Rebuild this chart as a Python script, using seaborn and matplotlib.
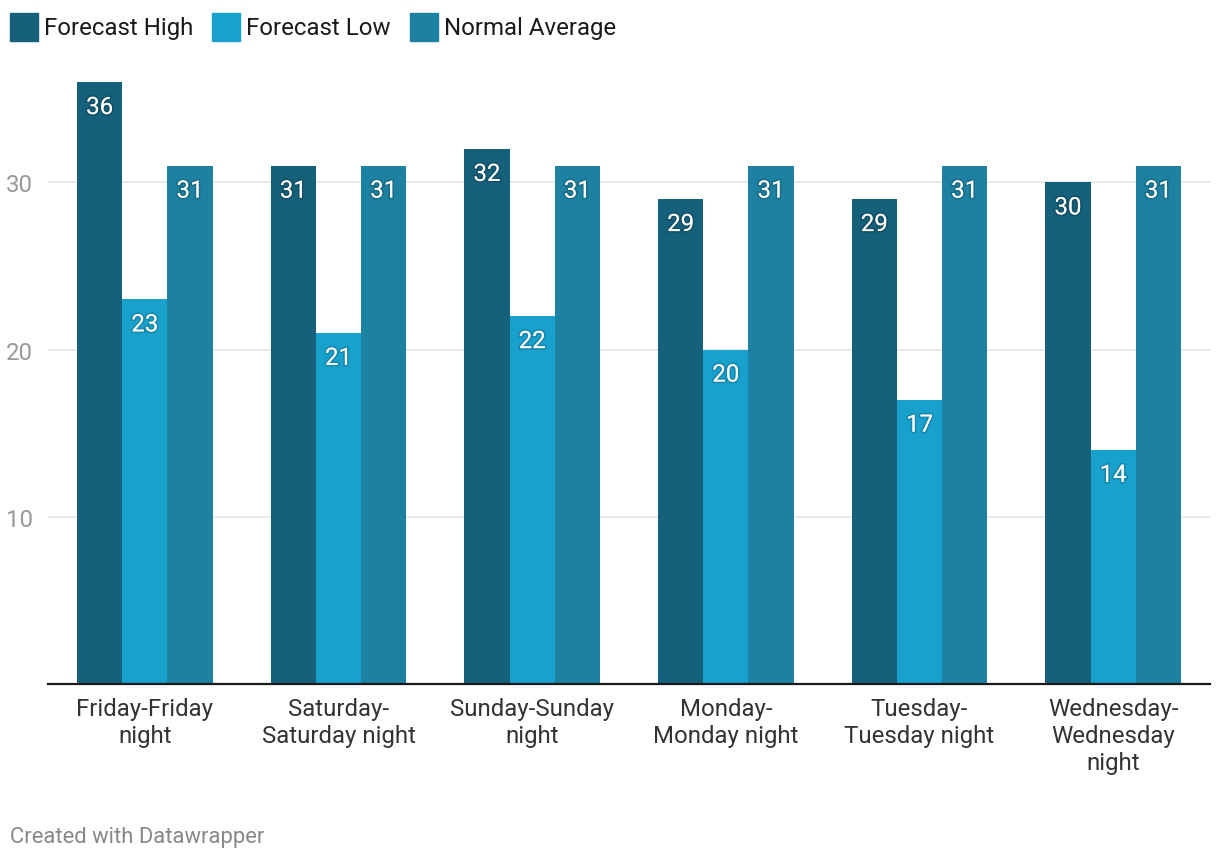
import pandas as pd
import seaborn as sns
import matplotlib.pyplot as plt
import matplotlib.patheffects as pe
from matplotlib.patches import Rectangle


DAYS = ['Friday-Friday\nnight', 'Saturday-\nSaturday night', 'Sunday-Sunday\nnight',
        'Monday-\nMonday night', 'Tuesday-\nTuesday night', 'Wednesday-\nWednesday\nnight']
SERIES = ['Forecast High', 'Forecast Low', 'Normal Average']
FORECAST_HIGH = [36, 31, 32, 29, 29, 30]
FORECAST_LOW = [23, 21, 22, 20, 17, 14]
NORMAL_AVERAGE = [31, 31, 31, 31, 31, 31]
Y_TICKS = [10, 20, 30]

COLORS = ['#15607a', '#18a1cd', '#1d81a2']


def build_frame():
    rows = []
    for name, values in zip(SERIES, [FORECAST_HIGH, FORECAST_LOW, NORMAL_AVERAGE]):
        for day, v in zip(DAYS, values):
            rows.append({'day': day, 'series': name, 'value': v})
    return pd.DataFrame(rows)


def main():
    sns.set_style('white')
    plt.rcParams['font.family'] = ['Roboto', 'DejaVu Sans']

    df = build_frame()
    W, H = 1220, 862
    fig = plt.figure(figsize=(W / 100, H / 100), dpi=100)
    ax = fig.add_axes([48 / W, 1 - 685 / H, (1210 - 48) / W, (685 - 80) / H])

    sns.barplot(data=df, x='day', y='value', hue='series', order=DAYS, hue_order=SERIES,
                palette=COLORS, width=0.7, linewidth=0, saturation=1, legend=False, ax=ax)

    ax.set_xlim(-0.5, len(DAYS) - 0.5)
    ax.set_ylim(0, (685 - 80) / 16.72)
    ax.set_yticks(Y_TICKS)
    ax.yaxis.grid(True, color='#e5e5e5', linewidth=1.2)
    ax.set_axisbelow(True)
    ax.set(xlabel='', ylabel='')
    for side in ['top', 'right', 'left']:
        ax.spines[side].set_visible(False)
    ax.spines['bottom'].set_color('#1a1a1a')
    ax.spines['bottom'].set_linewidth(1.6)
    ax.tick_params(axis='y', length=0, pad=11, labelsize=17.3, labelcolor='#999999')
    ax.tick_params(axis='x', length=0, pad=9.5, labelsize=17.3, labelcolor='#333333')
    for lbl in ax.get_xticklabels():
        lbl.set_linespacing(1.22)
        lbl.set_va('top')

    shadow = [pe.withStroke(linewidth=2.5, foreground=(0, 0, 0, 0.15))]
    for container in ax.containers:
        for bar in container:
            h = bar.get_height()
            ax.annotate('%d' % h, (bar.get_x() + bar.get_width() / 2, h),
                        xytext=(0, -23), textcoords='offset points',
                        ha='center', va='baseline', color='white', fontsize=17.3,
                        path_effects=shadow, annotation_clip=False)

    # legend drawn across the top
    x0 = [10, 212, 410]
    for x, name, color in zip(x0, SERIES, COLORS):
        fig.patches.append(Rectangle((x / W, 1 - 42 / H), 28 / W, 28 / H, color=color,
                                     transform=fig.transFigure, figure=fig))
        fig.text((x + 34) / W, 1 - 35 / H, name, fontsize=17.3, color='#1a1a1a',
                 va='baseline', ha='left')

    fig.text(10 / W, 1 - 843 / H, 'Created with Datawrapper', fontsize=15.8,
             color='#888888', va='baseline', ha='left')

    fig.savefig('out.png', dpi=100)


main()
